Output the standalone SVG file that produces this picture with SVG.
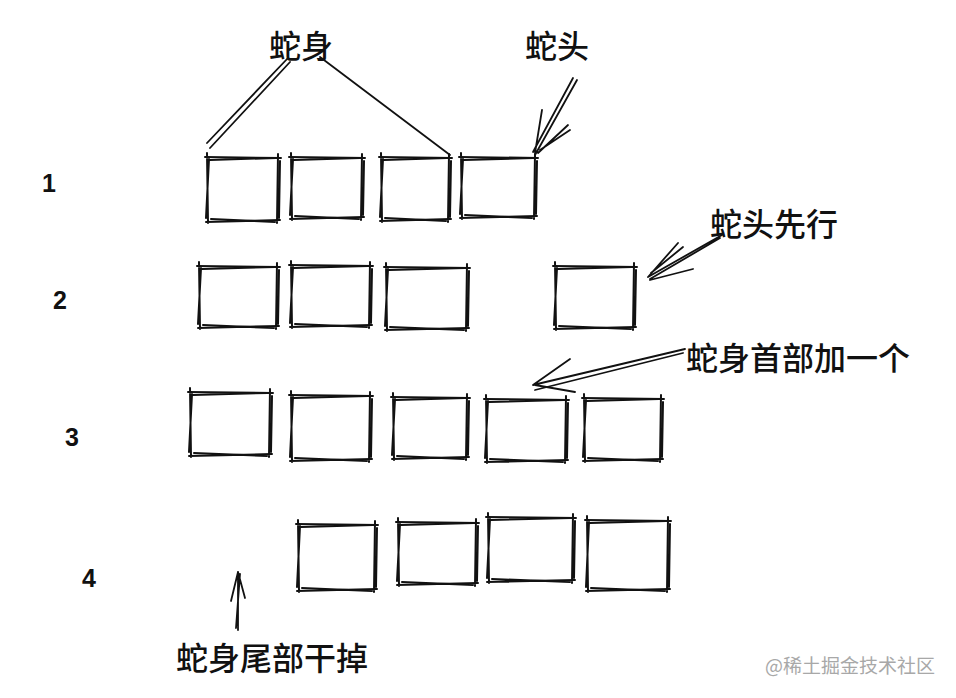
<svg xmlns="http://www.w3.org/2000/svg" width="956" height="698" viewBox="0 0 956 698">
<style>
.bx{fill:none;stroke:#111;stroke-width:2;stroke-linecap:round}
.cn{fill:none;stroke:#111;stroke-width:1.8;stroke-linecap:round}
.lb{font-family:"Noto Sans CJK SC","Noto Sans",sans-serif;font-size:32px;font-weight:500;fill:#111}
.num{font-family:"Liberation Sans","DejaVu Sans",sans-serif;font-size:25px;font-weight:bold;fill:#111;text-anchor:middle}
.wm{font-family:"Noto Sans CJK SC","Noto Sans",sans-serif;font-size:19px;fill:#a8a8a8}
</style>
<rect width="956" height="698" fill="#fff"/>
<g id="rowlabels">
<text class="num" x="49" y="192">1</text>
<text class="num" x="60" y="309">2</text>
<text class="num" x="72" y="446">3</text>
<text class="num" x="89" y="587">4</text>
</g>
<g id="r1b1"><path class="bx" d="M205 157L281 158M210 160L276 158M278 154L277 223M280 161L279 218M206 222L280 220M211 219L275 222M207 153L208 223M209 159L206 218"/></g>
<g id="r1b2"><path class="bx" d="M289 157L365 158M294 160L360 158M362 154L361 220M364 161L363 215M290 219L364 217M295 216L359 219M291 153L292 220M293 159L290 215"/></g>
<g id="r1b3"><path class="bx" d="M379 157L452 158M384 160L447 158M449 154L448 222M451 161L450 217M380 221L451 219M385 218L446 221M381 153L382 222M383 159L380 217"/></g>
<g id="r1b4"><path class="bx" d="M459 157L538 158M464 160L533 158M535 154L534 219M537 161L536 214M460 218L537 216M465 215L532 218M461 153L462 219M463 159L460 214"/></g>
<g id="r2b1"><path class="bx" d="M197 266L280 267M202 269L275 267M277 263L276 329M279 270L278 324M198 328L279 326M203 325L274 328M199 262L200 329M201 268L198 324"/></g>
<g id="r2b2"><path class="bx" d="M289 265L373 266M294 268L368 266M370 262L369 328M372 269L371 323M290 327L372 325M295 324L367 327M291 261L292 328M293 267L290 323"/></g>
<g id="r2b3"><path class="bx" d="M384 267L470 268M389 270L465 268M467 264L466 331M469 271L468 326M385 330L469 328M390 327L464 330M386 263L387 331M388 269L385 326"/></g>
<g id="r2b4"><path class="bx" d="M553 266L637 267M558 269L632 267M634 263L633 330M636 270L635 325M554 329L636 327M559 326L631 329M555 262L556 330M557 268L554 325"/></g>
<g id="r3b1"><path class="bx" d="M188 392L273 393M193 395L268 393M270 389L269 457M272 396L271 452M189 456L272 454M194 453L267 456M190 388L191 457M192 394L189 452"/></g>
<g id="r3b2"><path class="bx" d="M289 395L373 396M294 398L368 396M370 392L369 462M372 399L371 457M290 461L372 459M295 458L367 461M291 391L292 462M293 397L290 457"/></g>
<g id="r3b3"><path class="bx" d="M391 397L470 398M396 400L465 398M467 394L466 460M469 401L468 455M392 459L469 457M397 456L464 459M393 393L394 460M395 399L392 455"/></g>
<g id="r3b4"><path class="bx" d="M484 399L569 400M489 402L564 400M566 396L565 463M568 403L567 458M485 462L568 460M490 459L563 462M486 395L487 463M488 401L485 458"/></g>
<g id="r3b5"><path class="bx" d="M582 398L664 399M587 401L659 399M661 395L660 462M663 402L662 457M583 461L663 459M588 458L658 461M584 394L585 462M586 400L583 457"/></g>
<g id="r4b1"><path class="bx" d="M296 524L378 525M301 527L373 525M375 521L374 592M377 528L376 587M297 591L377 589M302 588L372 591M298 520L299 592M300 526L297 587"/></g>
<g id="r4b2"><path class="bx" d="M396 522L479 523M401 525L474 523M476 519L475 586M478 526L477 581M397 585L478 583M402 582L473 585M398 518L399 586M400 524L397 581"/></g>
<g id="r4b3"><path class="bx" d="M486 517L576 518M491 520L571 518M573 514L572 583M575 521L574 578M487 582L575 580M492 579L570 582M488 513L489 583M490 519L487 578"/></g>
<g id="r4b4"><path class="bx" d="M585 520L671 521M590 523L666 521M668 517L667 592M670 524L669 587M586 591L670 589M591 588L665 591M587 516L588 592M589 522L586 587"/></g>
<g id="connectors">
<path class="cn" d="M288 58L207 143M290 62L210 148M320 57L450 155"/>
<path class="cn" d="M577 80L535 155M573 78L533 152M542 110L535 153M568 125L538 153M570 130L540 150"/>
<path class="cn" d="M722 235L648 277M720 238L650 279M678 243L648 277M683 247L651 273M693 269L650 280"/>
<path class="cn" d="M685 349L533 385M683 353L535 390M570 359L533 385M575 392L535 385"/>
<path class="cn" d="M238 630L238 572M236 628L240 574M231 601L238 572M245 598L238 572"/>
</g>
<g id="labels">
<text class="lb" x="269" y="58">蛇身</text>
<text class="lb" x="525" y="58">蛇头</text>
<text class="lb" x="710" y="236">蛇头先行</text>
<text class="lb" x="686" y="370">蛇身首部加一个</text>
<text class="lb" x="176" y="670">蛇身尾部干掉</text>
<text class="wm" x="765" y="673">@稀土掘金技术社区</text>
</g>
</svg>
